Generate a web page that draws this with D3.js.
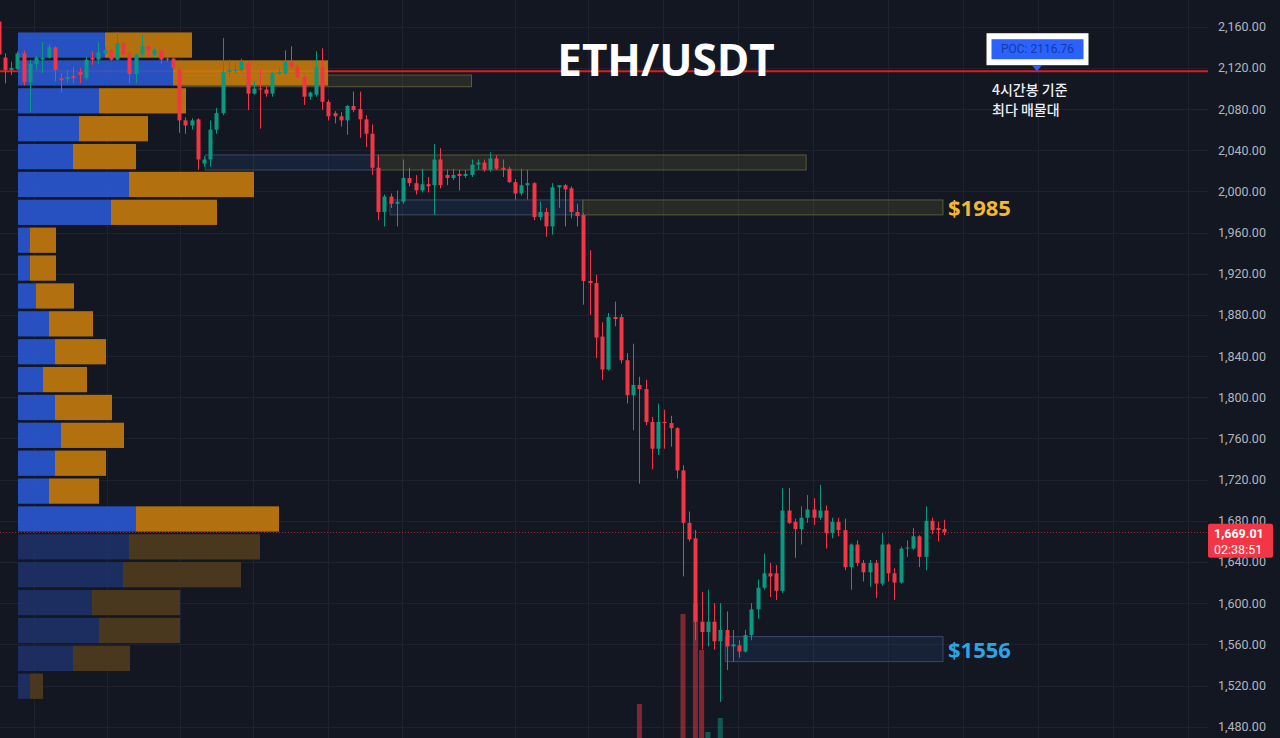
<!DOCTYPE html>
<html>
<head>
<meta charset="utf-8">
<script src="https://cdn.jsdelivr.net/npm/d3@7"></script>
<style>
  html, body { margin: 0; padding: 0; background: #131722; overflow: hidden; }
  #chart { width: 1280px; height: 738px; }
</style>
</head>
<body>
<div id="chart"></div>
<script>
// ETH/USDT 4h candles, [open, high, low, close]
const ohlc = [
  [2165, 2169, 2130, 2133], [2130, 2134, 2105, 2118], [2118, 2126, 2113, 2120], [2119, 2136, 2118, 2134],
  [2134, 2137, 2103, 2106], [2106, 2128, 2077, 2124], [2124, 2132, 2118, 2130], [2128, 2145, 2115, 2130],
  [2130, 2143, 2129, 2140], [2140, 2141, 2107, 2118], [2110, 2115, 2096, 2108], [2109, 2118, 2105, 2111],
  [2112, 2121, 2105, 2110], [2116, 2120, 2105, 2113], [2110, 2131, 2108, 2128], [2130, 2136, 2123, 2128],
  [2128, 2145, 2124, 2135], [2134, 2141, 2133, 2137], [2137, 2139, 2127, 2128], [2128, 2155, 2127, 2144],
  [2144, 2146, 2131, 2133], [2134, 2136, 2105, 2114], [2114, 2134, 2105, 2133], [2133, 2152, 2131, 2141],
  [2141, 2142, 2131, 2137], [2133, 2139, 2131, 2137], [2137, 2138, 2124, 2128], [2129, 2131, 2126, 2128],
  [2129, 2130, 2118, 2120], [2118, 2120, 2057, 2069], [2069, 2072, 2056, 2064], [2064, 2071, 2060, 2069],
  [2070, 2071, 2021, 2031], [2027, 2034, 2024, 2031], [2031, 2069, 2024, 2060], [2060, 2081, 2056, 2076],
  [2076, 2149, 2074, 2116], [2116, 2128, 2111, 2118], [2117, 2125, 2115, 2118], [2118, 2129, 2116, 2126],
  [2124, 2126, 2079, 2095], [2095, 2107, 2094, 2100], [2100, 2118, 2061, 2099], [2099, 2102, 2092, 2095],
  [2095, 2116, 2092, 2115], [2115, 2120, 2113, 2116], [2115, 2137, 2113, 2126], [2126, 2141, 2120, 2121],
  [2121, 2123, 2110, 2111], [2111, 2113, 2084, 2092], [2092, 2097, 2089, 2096], [2094, 2136, 2092, 2121],
  [2121, 2139, 2079, 2087], [2087, 2089, 2069, 2073], [2076, 2078, 2066, 2073], [2073, 2077, 2063, 2069],
  [2069, 2084, 2055, 2083], [2083, 2097, 2077, 2079], [2080, 2097, 2052, 2070], [2070, 2074, 2043, 2056],
  [2056, 2065, 2016, 2023], [2023, 2035, 1972, 1980], [1980, 1997, 1966, 1995], [1995, 1998, 1984, 1988],
  [1988, 2001, 1966, 1990], [1990, 2031, 1988, 2013], [2013, 2023, 2005, 2008], [2008, 2016, 1997, 2001],
  [2001, 2022, 1999, 2007], [2007, 2014, 1999, 2005], [2006, 2046, 1977, 2031], [2031, 2042, 2003, 2006],
  [2016, 2021, 2006, 2013], [2013, 2022, 2011, 2016], [2017, 2021, 2001, 2015], [2015, 2021, 2013, 2017],
  [2016, 2031, 2014, 2026], [2026, 2031, 2021, 2028], [2028, 2031, 2019, 2021], [2021, 2038, 2019, 2032],
  [2032, 2035, 2021, 2022], [2023, 2031, 2014, 2021], [2022, 2024, 2008, 2009], [2009, 2012, 1992, 1998],
  [1998, 2022, 1996, 2006], [2006, 2021, 1992, 2008], [2008, 2009, 1972, 1975], [1975, 1990, 1972, 1980],
  [1980, 1984, 1956, 1966], [1966, 2008, 1958, 2004], [2004, 2006, 1984, 2006], [2006, 2007, 1966, 2002],
  [2003, 2005, 1974, 1980], [1980, 1988, 1966, 1976], [1977, 1979, 1890, 1913], [1913, 1943, 1880, 1911],
  [1911, 1919, 1838, 1858], [1859, 1873, 1817, 1827], [1827, 1882, 1826, 1878], [1878, 1893, 1869, 1876],
  [1878, 1881, 1833, 1836], [1836, 1843, 1794, 1802], [1802, 1852, 1768, 1812], [1812, 1820, 1716, 1808],
  [1808, 1817, 1773, 1776], [1776, 1781, 1730, 1750], [1750, 1794, 1744, 1776], [1776, 1788, 1750, 1775],
  [1775, 1782, 1752, 1770], [1770, 1771, 1721, 1729], [1729, 1734, 1626, 1678], [1678, 1689, 1660, 1662],
  [1663, 1671, 1564, 1582], [1582, 1611, 1555, 1572], [1572, 1613, 1558, 1582], [1582, 1600, 1555, 1563],
  [1563, 1600, 1504, 1574], [1574, 1592, 1535, 1558], [1558, 1574, 1543, 1560], [1559, 1564, 1547, 1553],
  [1553, 1574, 1552, 1569], [1569, 1600, 1564, 1594], [1594, 1623, 1585, 1615], [1615, 1648, 1613, 1629],
  [1629, 1639, 1606, 1626], [1629, 1637, 1603, 1612], [1612, 1712, 1610, 1690], [1690, 1712, 1677, 1678],
  [1679, 1682, 1644, 1672], [1672, 1694, 1657, 1683], [1683, 1705, 1678, 1691], [1691, 1702, 1676, 1683],
  [1683, 1715, 1681, 1690], [1690, 1695, 1653, 1668], [1668, 1683, 1663, 1679], [1679, 1683, 1665, 1671],
  [1671, 1682, 1632, 1635], [1635, 1658, 1613, 1657], [1657, 1661, 1636, 1639], [1639, 1642, 1621, 1630],
  [1630, 1642, 1616, 1639], [1639, 1642, 1605, 1619], [1619, 1668, 1617, 1657], [1657, 1658, 1621, 1629],
  [1629, 1634, 1603, 1620], [1620, 1655, 1619, 1653], [1653, 1661, 1645, 1654], [1653, 1673, 1652, 1665],
  [1665, 1666, 1635, 1645], [1645, 1694, 1632, 1680], [1680, 1683, 1667, 1671], [1673, 1679, 1660, 1671],
  [1672, 1681, 1666, 1669.01]
];

const priceTicks = d3.range(1480, 2161, 40);
// time grid, in candle index units
const gridIdx = [5.7, 17.4, 29.1, 40.9, 52.9, 64.8, 83.0, 94.7, 106.8, 118.8, 130.9, 143.0, 155.0, 167.1, 179.1, 191.2];

// volume bars tall enough to show in the crop: [candle index, volume]
const volumeBars = [[103, 28], [110, 73], [112, 78], [113, 55], [114, 14], [116, 21]];

// visible range volume profile, top row first
const profileHigh = 2155.4;
const profileStep = 27.08;
const valueAreaLow = 1668;
const buyVolume = [87, 155, 81, 61, 55, 111, 93, 12, 12, 18, 31, 37, 25, 37, 43, 37, 31, 118, 111, 105, 74, 81, 55, 12];
const sellVolume = [87, 155, 87, 69, 63, 125, 106, 26, 26, 38, 44, 51, 44, 57, 63, 51, 50, 143, 131, 118, 88, 81, 57, 13];

const pocPrice = 2116.76;
const lastPrice = 1669.01;
const countdown = "02:38:51";

// boxes: [from index, to index, top, bottom, kind]
const zones = [
  [28.8, 76, 2113, 2101.7, "supply"],
  [33.2, 61, 2035.4, 2020.8, "demand"],
  [61, 129.8, 2035.4, 2020.8, "supply"],
  [62.9, 93.9, 1991.7, 1977.2, "demand"],
  [93.9, 151.8, 1991.7, 1977.2, "supply"],
  [116.8, 151.8, 1567.5, 1543.2, "demand"]
];
const zoneLabels = [["$1985", 1984.5, "#f5b730"], ["$1556", 1555.5, "#2aa6e6"]];

function drawChart() {
    const W = 1280, H = 738, plotRight = 1208;
    const up = "#089981", down = "#f23645";

    const x = d3.scaleLinear().domain([0, 152]).range([-1.2, 944.2]);
    const y = d3.scaleLinear().domain([1480, 2160]).range([726.7, 26.7]);
    const vol = d3.scaleLinear().domain([0, 100]).range([760, 560]);
    const vp = d3.scaleLinear().domain([0, 100]).range([0, 100]);

    const svg = d3.select("#chart").append("svg").attr("width", W).attr("height", H);
    svg.append("rect").attr("width", W).attr("height", H).attr("fill", "#131722");

    svg.append("defs").append("clipPath").attr("id", "plot")
        .append("rect").attr("width", plotRight).attr("height", H);
    const plot = svg.append("g").attr("clip-path", "url(#plot)");

    // grid
    plot.append("g").selectAll("line").data(priceTicks).join("line")
        .attr("x1", 0).attr("x2", plotRight)
        .attr("y1", d => Math.round(y(d)) + 0.5).attr("y2", d => Math.round(y(d)) + 0.5)
        .attr("stroke", "#1e2230");
    plot.append("g").selectAll("line").data(gridIdx).join("line")
        .attr("x1", d => Math.round(x(d)) + 0.5).attr("x2", d => Math.round(x(d)) + 0.5)
        .attr("y1", 0).attr("y2", H)
        .attr("stroke", "#1e2230");

    // volume
    plot.append("g").selectAll("rect").data(volumeBars).join("rect")
        .attr("x", d => x(d[0]) - 2.5).attr("width", 5)
        .attr("y", d => vol(d[1])).attr("height", d => vol(0) - vol(d[1]))
        .attr("fill", d => ohlc[d[0]][3] >= ohlc[d[0]][0] ? "rgba(8,153,129,0.5)" : "rgba(242,54,69,0.5)");

    // zones
    const zoneStyle = {
        supply: { fill: "rgba(120,118,60,0.2)", stroke: "#5c5a36" },
        demand: { fill: "rgba(50,90,150,0.18)", stroke: "#3a4a68" }
    };
    plot.append("g").selectAll("rect").data(zones).join("rect")
        .attr("x", d => x(d[0])).attr("width", d => x(d[1]) - x(d[0]))
        .attr("y", d => y(d[2])).attr("height", d => y(d[3]) - y(d[2]))
        .attr("fill", d => zoneStyle[d[4]].fill)
        .attr("stroke", d => zoneStyle[d[4]].stroke);

    // POC line
    plot.append("line")
        .attr("x1", 0).attr("x2", plotRight)
        .attr("y1", y(pocPrice)).attr("y2", y(pocPrice))
        .attr("stroke", "#e01c1c").attr("stroke-width", 2);

    // volume profile
    const rowPx = y(0) - y(profileStep);
    const rows = buyVolume.map((b, i) => {
        const top = profileHigh - i * profileStep;
        return { top, buy: b, sell: sellVolume[i], dim: top - profileStep < valueAreaLow - 1 };
    });
    const vpG = plot.append("g").attr("opacity", 0.88);
    vpG.selectAll(".buy").data(rows).join("rect")
        .attr("x", 18).attr("width", d => vp(d.buy))
        .attr("y", d => y(d.top) + 1).attr("height", rowPx - 2.6)
        .attr("fill", d => d.dim ? "#1d3268" : "#2a58d6");
    vpG.selectAll(".sell").data(rows).join("rect")
        .attr("x", d => 18 + vp(d.buy)).attr("width", d => vp(d.sell))
        .attr("y", d => y(d.top) + 1).attr("height", rowPx - 2.6)
        .attr("fill", d => d.dim ? "#513d1e" : "#c97d0c");

    // candles
    const cg = plot.append("g");
    cg.selectAll("line").data(ohlc).join("line")
        .attr("x1", (d, i) => Math.round(x(i)) + 0.5).attr("x2", (d, i) => Math.round(x(i)) + 0.5)
        .attr("y1", d => y(d[1])).attr("y2", d => y(d[2]))
        .attr("stroke", d => d[3] >= d[0] ? up : down);
    cg.selectAll("rect").data(ohlc).join("rect")
        .attr("x", (d, i) => Math.round(x(i)) - 1.5).attr("width", 4)
        .attr("y", d => y(Math.max(d[0], d[3])))
        .attr("height", d => Math.max(1, Math.abs(y(d[0]) - y(d[3]))))
        .attr("fill", d => d[3] >= d[0] ? up : down);

    // last price dotted line
    plot.append("line")
        .attr("x1", 0).attr("x2", plotRight)
        .attr("y1", Math.round(y(lastPrice)) + 0.5).attr("y2", Math.round(y(lastPrice)) + 0.5)
        .attr("stroke", down).attr("stroke-opacity", 0.6).attr("stroke-dasharray", "1,2");

    // title
    svg.append("text")
        .attr("x", 666).attr("y", 76)
        .attr("text-anchor", "middle")
        .attr("fill", "#ffffff")
        .style("font-family", "'Open Sans', sans-serif")
        .style("font-weight", "700")
        .style("font-size", "44px")
        .text("ETH/USDT");

    // zone price labels
    svg.append("g").selectAll("text").data(zoneLabels).join("text")
        .attr("x", 948).attr("y", d => y(d[1]))
        .attr("dominant-baseline", "central")
        .attr("fill", d => d[2])
        .style("font-family", "'Open Sans', sans-serif")
        .style("font-weight", "700")
        .style("font-size", "22px")
        .text(d => d[0]);

    // POC callout
    const pocY = y(pocPrice);
    const callout = svg.append("g");
    callout.append("rect").attr("x", 986.5).attr("y", pocY - 38).attr("width", 102).attr("height", 32).attr("fill", "#ffffff");
    callout.append("rect").attr("x", 991.5).attr("y", pocY - 32).attr("width", 92).attr("height", 20).attr("fill", "#2962ff");
    callout.append("path")
        .attr("d", `M1032,${pocY - 6} L1042,${pocY - 6} L1037,${pocY} Z`)
        .attr("fill", "#2962ff");
    callout.append("text")
        .attr("x", 1037.5).attr("y", pocY - 22)
        .attr("text-anchor", "middle").attr("dominant-baseline", "central")
        .attr("fill", "#1a3a9c")
        .style("font-family", "Roboto, sans-serif")
        .style("font-size", "12px")
        .text(`POC: ${pocPrice.toFixed(2)}`);
    callout.selectAll(".note").data(["4시간봉 기준", "최다 매물대"]).join("text")
        .attr("x", 992).attr("y", (d, i) => 95 + i * 20)
        .attr("fill", "#eceef3")
        .style("font-family", "'Noto Sans CJK KR', sans-serif")
        .style("font-weight", "500")
        .style("font-size", "14px")
        .text(d => d);

    // price axis
    const axis = svg.append("g")
        .attr("transform", `translate(${plotRight},0)`)
        .call(d3.axisRight(y).tickValues(priceTicks).tickFormat(d3.format(",.2f")).tickSize(0).tickPadding(10));
    axis.select(".domain").remove();
    axis.selectAll("text")
        .attr("fill", "#b2b5be")
        .style("font-family", "Roboto, sans-serif")
        .style("font-size", "12.5px");

    // last price tag
    const ly = y(lastPrice);
    svg.append("rect")
        .attr("x", plotRight).attr("y", ly - 8.5).attr("width", 65).attr("height", 34)
        .attr("rx", 2).attr("fill", down);
    svg.append("g").selectAll("text").data([d3.format(",.2f")(lastPrice), countdown]).join("text")
        .attr("x", 1214).attr("y", (d, i) => ly + 1 + i * 16)
        .attr("dominant-baseline", "central")
        .attr("fill", "#ffffff")
        .style("font-family", "Roboto, sans-serif")
        .style("font-weight", (d, i) => i === 0 ? "700" : "400")
        .style("font-size", "12.5px")
        .text(d => d);
}

drawChart();
</script>
</body>
</html>
